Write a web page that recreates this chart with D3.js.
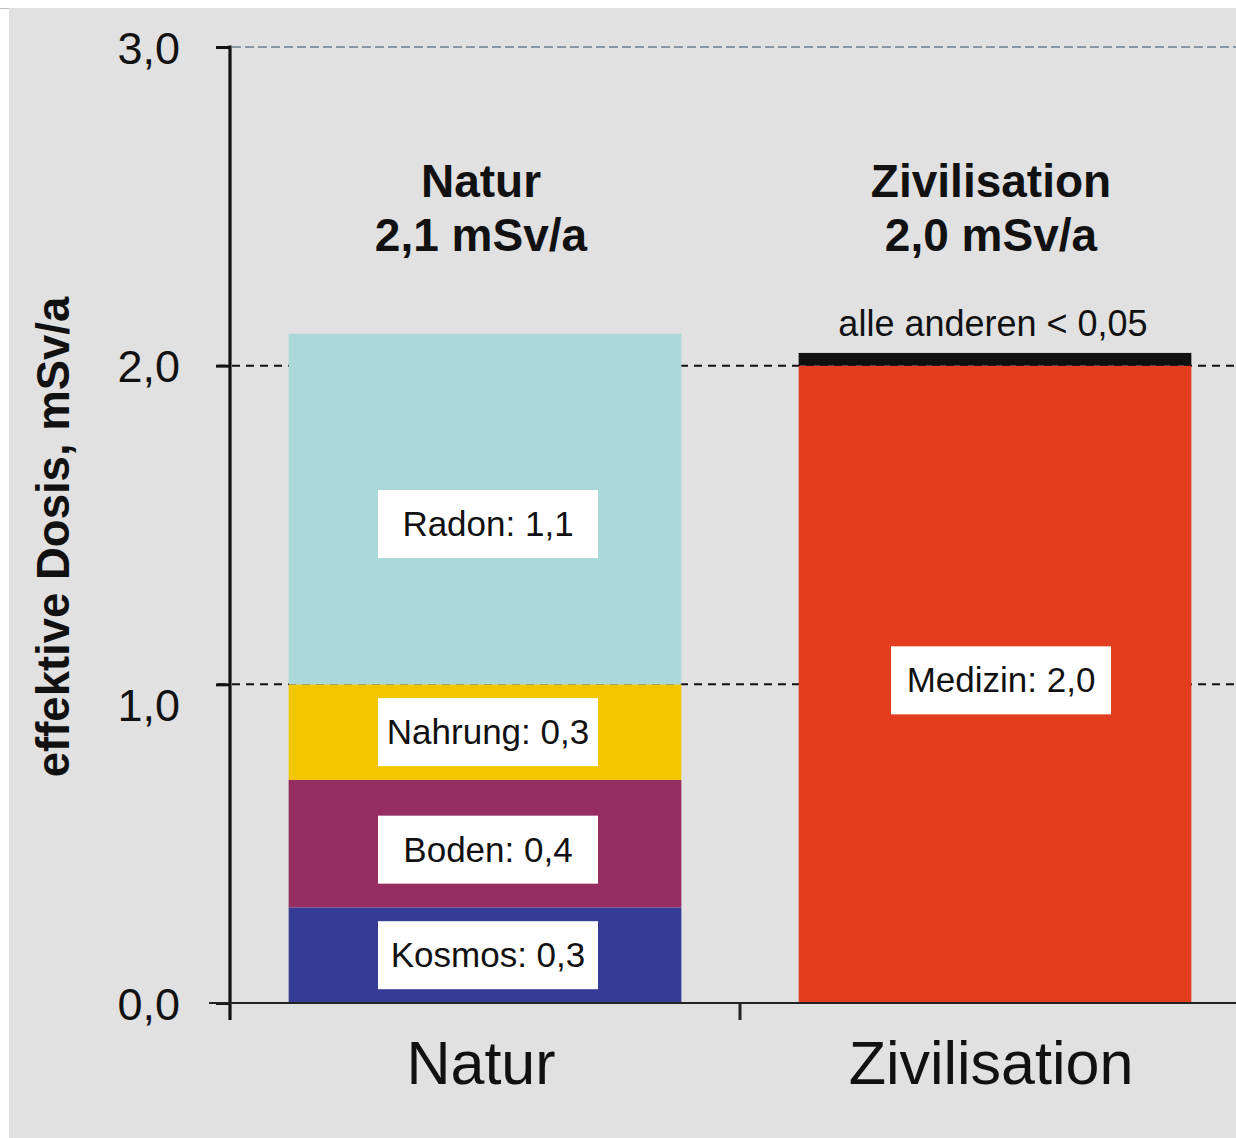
<!DOCTYPE html>
<html>
<head>
<meta charset="utf-8">
<script src="https://cdn.jsdelivr.net/npm/d3@7"></script>
<style>
  html, body { margin: 0; padding: 0; background: #ffffff; }
  svg { display: block; }
  text { font-family: "Liberation Sans", Arial, Helvetica, sans-serif; }
</style>
</head>
<body>
<svg id="chart" width="1236" height="1138"></svg>
<script>
// ---- data ----
const categories = ["Natur", "Zivilisation"];
const sources = ["Kosmos", "Boden", "Nahrung", "Radon", "Medizin", "Andere"];
const naturValues = [0.3, 0.4, 0.3, 1.1, 0, 0];
const zivilisationValues = [0, 0, 0, 0, 2.0, 0.04];
const sourceLabels = ["Kosmos: 0,3", "Boden: 0,4", "Nahrung: 0,3", "Radon: 1,1", "Medizin: 2,0", ""];
const sourceColors = ["#343c95", "#962e62", "#f2c600", "#acd8da", "#e13d1e", "#111111"];
const totalLabels = ["2,1 mSv/a", "2,0 mSv/a"];
const otherNote = "alle anderen < 0,05";
const yTicks = [0, 1, 2, 3];
const yTitle = "effektive Dosis, mSv/a";

// ---- setup ----
const W = 1236, H = 1138;
const svg = d3.select("#chart");
const locale = d3.formatLocale({ decimal: ",", thousands: ".", grouping: [3], currency: ["", "€"] });
const fmt = locale.format(".1f");

svg.append("rect").attr("x", 9).attr("y", 8).attr("width", W - 9).attr("height", H - 8).attr("fill", "#e1e1e1");
svg.append("line").attr("x1", 0).attr("x2", 9).attr("y1", 8.5).attr("y2", 8.5).attr("stroke", "#bdbdbd").attr("stroke-width", 1);

const y = d3.scaleLinear().domain([0, 3]).range([1003, 47]);
const x = d3.scaleBand().domain(categories).range([230, 1250]).paddingInner(0.23).paddingOuter(0.115);

// rows for stacking
const rows = categories.map((c, i) => {
  const vals = i === 0 ? naturValues : zivilisationValues;
  const r = { category: c };
  sources.forEach((s, j) => r[s] = vals[j]);
  return r;
});
const stacked = d3.stack().keys(sources)(rows);

// gridlines (dashed)
const grid = svg.append("g");
yTicks.filter(t => t > 0 && t < 3).forEach(t => {
  grid.append("line")
    .attr("x1", 218).attr("x2", W).attr("y1", y(t)).attr("y2", y(t))
    .attr("stroke", "#111").attr("stroke-width", 2).attr("stroke-dasharray", "8,6");
});
grid.append("line")
  .attr("x1", 232).attr("x2", W).attr("y1", y(3)).attr("y2", y(3))
  .attr("stroke", "#6c7d8e").attr("stroke-width", 1.6).attr("stroke-dasharray", "9,4");

// bars
const barG = svg.append("g");
stacked.forEach((layer, k) => {
  layer.forEach((d, i) => {
    if (d[1] - d[0] <= 0) return;
    barG.append("rect")
      .attr("x", x(categories[i]))
      .attr("width", x.bandwidth())
      .attr("y", y(d[1]))
      .attr("height", y(d[0]) - y(d[1]))
      .attr("fill", sourceColors[k]);
  });
});

// label boxes
const boxW = 220, boxH = 68;
stacked.forEach((layer, k) => {
  layer.forEach((d, i) => {
    if (d[1] - d[0] <= 0 || !sourceLabels[k]) return;
    let cy = y((d[0] + d[1]) / 2);
    if (sources[k] === "Radon") cy += 15;
    if (sources[k] === "Boden") cy += 6;
    if (sources[k] === "Medizin") cy = y(1) - 4;
    const cx = x(categories[i]) + x.bandwidth() / 2 + (i === 0 ? 3 : 6);
    barG.append("rect")
      .attr("x", cx - boxW / 2).attr("y", cy - boxH / 2)
      .attr("width", boxW).attr("height", boxH).attr("fill", "#ffffff");
    barG.append("text")
      .attr("x", cx).attr("y", cy + 12)
      .attr("text-anchor", "middle")
      .attr("font-size", 35).attr("fill", "#111")
      .text(sourceLabels[k]);
  });
});

// titles above bars
categories.forEach((c, i) => {
  const cx = x(c) + x.bandwidth() / 2 - 4;
  svg.append("text").attr("x", cx).attr("y", 197).attr("text-anchor", "middle")
    .attr("font-size", 46).attr("font-weight", "bold").attr("fill", "#111").text(c);
  svg.append("text").attr("x", cx).attr("y", 251).attr("text-anchor", "middle")
    .attr("font-size", 46).attr("font-weight", "bold").attr("fill", "#111").text(totalLabels[i]);
});
svg.append("text")
  .attr("x", x("Zivilisation") + x.bandwidth() / 2 - 2).attr("y", 336)
  .attr("text-anchor", "middle").attr("font-size", 36).attr("fill", "#111")
  .text(otherNote);

// y axis
const yAxis = d3.axisLeft(y).tickValues(yTicks).tickSize(14).tickFormat(fmt).tickPadding(36);
const yg = svg.append("g").attr("transform", "translate(230,0)").call(yAxis);
yg.select(".domain").remove();
yg.selectAll(".tick line").attr("stroke", "#111").attr("stroke-width", 3);
yg.selectAll(".tick text")
  .attr("font-size", 45).attr("fill", "#111")
  .attr("font-family", "'Liberation Sans', Arial, sans-serif")
  .attr("dy", "0.36em");
yg.selectAll(".tick").filter(d => d === 1).select("text").attr("dy", "0.8em");
svg.append("line").attr("x1", 230).attr("x2", 230).attr("y1", y(3) - 1.5).attr("y2", 1020)
  .attr("stroke", "#111").attr("stroke-width", 3.2);

// x axis
svg.append("line").attr("x1", 209).attr("x2", W).attr("y1", y(0)).attr("y2", y(0))
  .attr("stroke", "#222").attr("stroke-width", 2);
const midTick = (x("Natur") + x.bandwidth() + x("Zivilisation")) / 2;
svg.append("line").attr("x1", midTick).attr("x2", midTick).attr("y1", y(0)).attr("y2", 1020)
  .attr("stroke", "#222").attr("stroke-width", 3);

categories.forEach(c => {
  svg.append("text").attr("x", x(c) + x.bandwidth() / 2 - 4).attr("y", 1084)
    .attr("text-anchor", "middle").attr("font-size", 61).attr("fill", "#111").text(c);
});

// y axis title
svg.append("text")
  .attr("transform", "translate(69,537) rotate(-90)")
  .attr("text-anchor", "middle").attr("font-size", 45.5).attr("font-weight", "bold").attr("fill", "#111")
  .text(yTitle);
</script>
</body>
</html>
